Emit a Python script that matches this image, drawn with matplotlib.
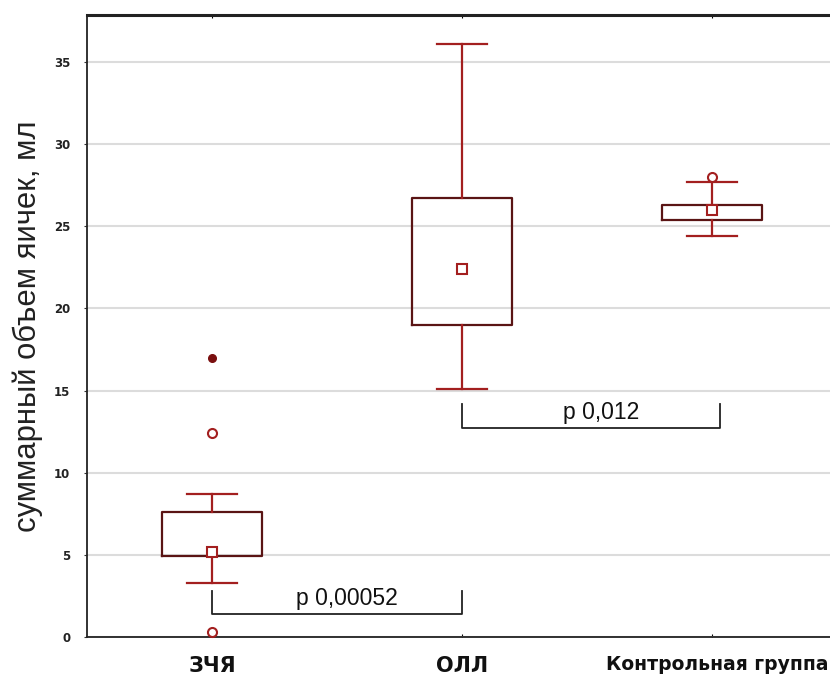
import matplotlib
matplotlib.use('Agg')
import matplotlib.pyplot as plt

# groups and box statistics
groups = ['ЗЧЯ', 'ОЛЛ', 'Контрольная группа']
centers = [5.2, 22.4, 26.0]
q1 = [4.9, 19.0, 25.4]
q3 = [7.6, 26.7, 26.3]
whislo = [3.3, 15.1, 24.4]
whishi = [8.7, 36.1, 27.7]
outliers = [[12.4, 0.3], [], [28.0]]
extremes = [[17.0], [], []]

# p-value brackets: (left group, right group, low y, high y, label)
brackets = [(0, 1, 1.4, 2.8, 'p 0,00052'), (1, 2.03, 12.7, 14.2, 'p 0,012')]

BOX_COLOR = '#5a1414'
WHISK_COLOR = '#a31f1f'

fig = plt.figure(figsize=(8.3, 6.86), dpi=100)
ax = fig.add_axes([87 / 830, 1 - 637 / 686, 750 / 830, 622 / 686])

stats = []
for i, g in enumerate(groups):
    stats.append({'label': g, 'med': centers[i], 'q1': q1[i], 'q3': q3[i],
                  'whislo': whislo[i], 'whishi': whishi[i], 'fliers': []})

ax.bxp(stats, positions=range(len(groups)), widths=0.4, showfliers=False,
       boxprops=dict(color=BOX_COLOR, linewidth=1.6),
       whiskerprops=dict(color=WHISK_COLOR, linewidth=1.6),
       capprops=dict(color=WHISK_COLOR, linewidth=1.6),
       medianprops=dict(linewidth=0), capwidths=0.2)

ax.plot(range(len(groups)), centers, linestyle='None', marker='s', ms=7,
        mfc='white', mec=WHISK_COLOR, mew=1.5, zorder=4)

for i in range(len(groups)):
    if outliers[i]:
        ax.plot([i] * len(outliers[i]), outliers[i], linestyle='None', marker='o', ms=6.5,
                mfc='white', mec=WHISK_COLOR, mew=1.5, zorder=4, clip_on=False)
    if extremes[i]:
        ax.plot([i] * len(extremes[i]), extremes[i], linestyle='None', marker='o', ms=5.5,
                mfc='#7a0f0f', mec='#7a0f0f', zorder=4)

for x0, x1, lo, hi, label in brackets:
    ax.plot([x0, x0, x1, x1], [hi, lo, lo, hi], color='#222222', lw=1.3)
    ax.text((x0 + x1) / 2 + 0.04, lo + 0.25, label, ha='center', va='bottom',
            fontsize=16.5, family='Liberation Sans', color='#111111')

ax.set_xlim(-0.5, 2.5)
ax.set_ylim(0, 37.86)
ax.set_yticks(range(0, 40, 5))
ax.yaxis.grid(True, color='#dcdcdc', lw=1.5)
ax.set_axisbelow(True)
ax.tick_params(axis='y', length=2, labelsize=8.5, colors='#333333', labelcolor='#222222', pad=10)
ax.tick_params(axis='x', length=2, direction='in', top=True, labelbottom=False)
for lab in ax.get_yticklabels():
    lab.set_fontweight('bold')
    lab.set_family('DejaVu Sans')

for s in ['left', 'bottom', 'top']:
    ax.spines[s].set_color('#222222')
    ax.spines[s].set_linewidth(1.3)
ax.spines['top'].set_linewidth(2.2)
ax.spines['right'].set_visible(False)

ax.set_ylabel('суммарный объем яичек, мл', fontsize=22.3, family='Liberation Sans',
              color='#222222')
ax.yaxis.set_label_coords(-44 / 750, (637 - 326) / 622)

label_sizes = [15, 15, 13.5]
label_x = [0, 1, 2.02]
label_y = [-1.75, -1.75, -1.7]
for i, g in enumerate(groups):
    ax.text(label_x[i], label_y[i], g, ha='center', va='center',
            fontsize=label_sizes[i], fontweight='bold', family='DejaVu Sans',
            color='#111111', clip_on=False)

fig.savefig('out.png', dpi=100)
